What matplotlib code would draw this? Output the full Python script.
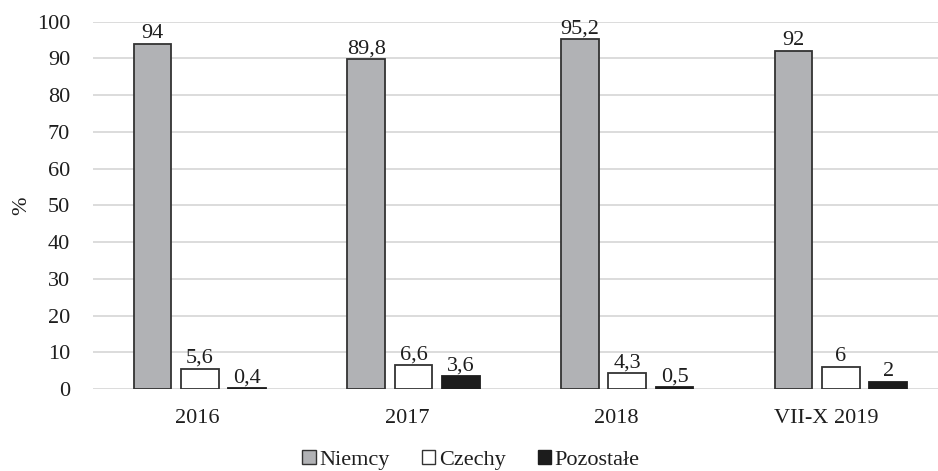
import matplotlib
matplotlib.use("Agg")
import matplotlib.pyplot as plt
import numpy as np
from matplotlib.patches import Patch

plt.rcParams['font.family'] = ['Liberation Serif', 'DejaVu Serif']

categories = ["2016", "2017", "2018", "VII-X 2019"]
series_names = ["Niemcy", "Czechy", "Pozostałe"]
niemcy = [94, 89.8, 95.2, 92]
czechy = [5.6, 6.6, 4.3, 6]
pozostale = [0.4, 3.6, 0.5, 2]
yticks = list(range(0, 101, 10))

values = [niemcy, czechy, pozostale]
faces = ["#b1b2b5", "#ffffff", "#1c1c1c"]
edges = ["#333333", "#333333", "#1c1c1c"]

FS = 16
fig = plt.figure(figsize=(9.38, 4.71), dpi=100)
ax = fig.add_axes([0.0991, 0.1736, 0.9009, 0.7804])

x = np.arange(len(categories))
group_pos = x * 1.02 + 0.01
width = 0.18
step = 0.226

def fmt(v):
    return f"{v:g}".replace(".", ",")

for i, (vals, fc, ec) in enumerate(zip(values, faces, edges)):
    pos = group_pos + (i - 1) * step
    bars = ax.bar(pos, vals, width, color=fc, edgecolor=ec, linewidth=1.3, zorder=3)
    for b, v in zip(bars, vals):
        ax.annotate(fmt(v), (b.get_x() + b.get_width() / 2, v),
                    xytext=(0, 0.5), textcoords="offset points",
                    ha="center", va="bottom", fontsize=FS, color="#1e1e1e")

ax.set_xlim(-0.5, 3.5 + 7 / 209.5)
ax.set_ylim(0, 100)
ax.set_yticks(yticks)
ax.set_xticks(x)
ax.set_xticklabels(categories)
ax.tick_params(axis="both", length=0, labelsize=FS, colors="#1e1e1e")
ax.tick_params(axis="x", pad=14)
ax.tick_params(axis="y", pad=16.5)
ax.yaxis.grid(True, color="#d9d9d9", linewidth=1.3, zorder=0)
for s in ax.spines.values():
    s.set_visible(False)
ax.set_ylabel("%", fontsize=FS, color="#1e1e1e", labelpad=4)

handles = [Patch(facecolor=fc, edgecolor=ec, linewidth=1.0) for fc, ec in zip(faces, edges)]
fig.legend(handles, series_names, loc="lower center", bbox_to_anchor=(0.502, 0.002),
           ncol=3, frameon=False, fontsize=FS, handlelength=0.62, handleheight=0.62,
           handletextpad=0.15, columnspacing=1.45, labelcolor="#1e1e1e",
           borderpad=0, borderaxespad=0)

fig.savefig("out.png", dpi=100)
